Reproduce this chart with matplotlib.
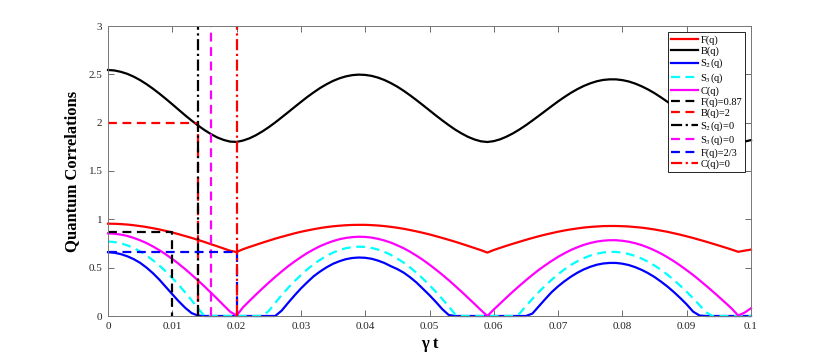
import numpy as np
import matplotlib
matplotlib.use("Agg")
import matplotlib.pyplot as plt

plt.rcParams["font.family"] = ["Liberation Serif", "DejaVu Serif"]
plt.rcParams["mathtext.fontset"] = "stix"

# time axis (gamma t), one reading every 0.001
t = np.round(np.arange(101) * 0.001, 3)

F_q = [0.955, 0.954, 0.951, 0.946, 0.939, 0.930, 0.920, 0.908, 0.895, 0.880, 0.864, 0.846, 0.827, 0.808,
       0.787, 0.766, 0.743, 0.721, 0.698, 0.675, 0.662,
       0.691, 0.714, 0.736, 0.758, 0.779, 0.800, 0.819, 0.837, 0.855, 0.871,
       0.885, 0.898, 0.910, 0.920, 0.928, 0.934, 0.939, 0.942, 0.943, 0.943,
       0.940, 0.936, 0.930, 0.922, 0.913, 0.902, 0.889, 0.875, 0.860, 0.844,
       0.826, 0.807, 0.788, 0.768, 0.747, 0.725, 0.703, 0.681, 0.656, 0.683,
       0.705, 0.727, 0.748, 0.768, 0.788, 0.807, 0.825, 0.842, 0.857, 0.872,
       0.885, 0.896, 0.906, 0.915, 0.921, 0.926, 0.930, 0.931, 0.931, 0.929,
       0.926, 0.920, 0.914, 0.905, 0.895, 0.883, 0.871, 0.856, 0.841, 0.824,
       0.807, 0.788, 0.769, 0.749, 0.729, 0.708, 0.687, 0.664, 0.676, 0.687]

B_q = [2.545, 2.540, 2.526, 2.505, 2.476, 2.440, 2.398, 2.351, 2.300, 2.246, 2.190,
       2.133, 2.076, 2.022, 1.971, 1.924, 1.882, 1.847, 1.821, 1.804, 1.801,
       1.815, 1.838, 1.870, 1.909, 1.953, 2.002, 2.054, 2.107, 2.161, 2.214,
       2.266, 2.314, 2.359, 2.398, 2.432, 2.459, 2.479, 2.492, 2.497, 2.494,
       2.484, 2.466, 2.441, 2.409, 2.372, 2.329, 2.282, 2.232, 2.180, 2.127,
       2.074, 2.023, 1.974, 1.928, 1.888, 1.853, 1.826, 1.807, 1.800, 1.809,
       1.828, 1.856, 1.890, 1.930, 1.974, 2.022, 2.071, 2.121, 2.171, 2.220,
       2.266, 2.309, 2.347, 2.380, 2.407, 2.428, 2.442, 2.448, 2.448, 2.440,
       2.426, 2.404, 2.376, 2.343, 2.305, 2.262, 2.216, 2.168, 2.119, 2.069,
       2.021, 1.975, 1.931, 1.892, 1.858, 1.831, 1.811, 1.801, 1.804, 1.820]

S2_q = ([0.660, 0.654, 0.640, 0.618, 0.588, 0.550, 0.500, 0.442, 0.375, 0.300, 0.225, 0.152, 0.085, 0.030, 0.004]
        + [0.0] * 12
        + [0.055, 0.135, 0.212, 0.285, 0.350, 0.412, 0.461, 0.504, 0.540, 0.567, 0.588, 0.600, 0.605, 0.602,
           0.592, 0.573, 0.548, 0.515]
        + [0.485, 0.448, 0.400, 0.345, 0.280, 0.215, 0.145, 0.070, 0.010]
        + [0.0] * 12
        + [0.025, 0.100, 0.175, 0.247, 0.307, 0.360, 0.407, 0.448, 0.482, 0.509, 0.530, 0.543, 0.549, 0.549,
           0.541, 0.527, 0.505, 0.477, 0.443, 0.403, 0.356, 0.305, 0.248, 0.186, 0.120, 0.045]
        + [0.005]
        + [0.0] * 8)

S3_q = ([0.770, 0.765, 0.752, 0.731, 0.703, 0.668, 0.625, 0.576, 0.521, 0.460, 0.393, 0.321, 0.244, 0.163, 0.079]
        + [0.0] * 10
        + [0.052, 0.135, 0.215, 0.290, 0.359, 0.424, 0.483, 0.536, 0.582, 0.622, 0.656, 0.682, 0.701, 0.713,
           0.717, 0.714]
        + [0.704, 0.687, 0.663, 0.632, 0.594, 0.551, 0.501, 0.445, 0.385, 0.319, 0.249, 0.175, 0.098, 0.017]
        + [0.0] * 9
        + [0.025, 0.103, 0.177, 0.248, 0.314, 0.375, 0.432, 0.483, 0.528, 0.566, 0.599, 0.625, 0.644, 0.657,
           0.663, 0.663, 0.655, 0.641, 0.621, 0.594, 0.561, 0.522, 0.478, 0.428, 0.373, 0.313, 0.250, 0.183,
           0.112, 0.039]
        + [0.0] * 7)

C_q = [0.855, 0.851, 0.842, 0.828, 0.808, 0.783, 0.754, 0.719, 0.680, 0.637, 0.590, 0.539, 0.485, 0.427,
       0.368, 0.306, 0.242, 0.177, 0.110, 0.044, 0.005,
       0.090, 0.156, 0.221, 0.284, 0.345, 0.404, 0.460, 0.514, 0.563, 0.609,
       0.652, 0.689, 0.723, 0.751, 0.775, 0.794, 0.808, 0.816, 0.820, 0.818,
       0.811, 0.798, 0.781, 0.759, 0.731, 0.700, 0.664, 0.623, 0.579, 0.531,
       0.480, 0.426, 0.370, 0.311, 0.250, 0.188, 0.125, 0.061, 0.000, 0.067,
       0.130, 0.193, 0.254, 0.313, 0.370, 0.425, 0.477, 0.525, 0.570, 0.612,
       0.649, 0.683, 0.711, 0.736, 0.755, 0.770, 0.779, 0.784, 0.784, 0.778,
       0.768, 0.753, 0.733, 0.708, 0.679, 0.646, 0.608, 0.567, 0.522, 0.474,
       0.424, 0.370, 0.314, 0.257, 0.198, 0.138, 0.077, 0.005, 0.035, 0.080]

for s in (F_q, B_q, S2_q, S3_q, C_q):
    assert len(s) == len(t)

# threshold markers: (t where reached, level)
t_F087, F_level = 0.010, 0.87
t_B2, B_level = 0.014, 2.0
t_S2zero = 0.014
t_S3zero = 0.016
t_F23, F23_level = 0.020, 2 / 3
t_Czero = 0.020

x_ticks = [0, 0.01, 0.02, 0.03, 0.04, 0.05, 0.06, 0.07, 0.08, 0.09, 0.1]
x_ticklabels = ["0", "0.01", "0.02", "0.03", "0.04", "0.05", "0.06", "0.07", "0.08", "0.09", "0.1"]
y_ticks = [0, 0.5, 1, 1.5, 2, 2.5, 3]
y_ticklabels = ["0", "0.5", "1", "1.5", "2", "2.5", "3"]

fig = plt.figure(figsize=(8.3, 3.54), dpi=100)
ax = fig.add_axes([108 / 830, 38 / 354, 643 / 830, 290 / 354])

lw = 1.6
dash = (4, 2.5)
dashdot = (5, 1.6, 1, 1.6)

ax.plot(t, F_q, color="#FF0000", lw=lw, label="F(q)", clip_on=False)
ax.plot(t, B_q, color="black", lw=lw, label="B(q)", clip_on=False)
ax.plot(t, S2_q, color="#0000FF", lw=lw, label="S$_2$(q)", clip_on=False)
ax.plot(t, S3_q, color="#00FFFF", lw=lw, dashes=dash, label="S$_3$(q)", clip_on=False)
ax.plot(t, C_q, color="#FF00FF", lw=lw, label="C(q)", clip_on=False)

ax.plot([0, t_F087, t_F087], [F_level, F_level, 0], color="black", lw=lw, dashes=dash,
        label="F(q)=0.87")
ax.plot([0, t_B2, t_B2], [B_level, B_level, 0], color="#FF0000", lw=lw, dashes=dash,
        label="B(q)=2")
ax.plot([t_S2zero, t_S2zero], [0, 3], color="black", lw=lw, dashes=dashdot, label="S$_2$(q)=0")
ax.plot([t_S3zero, t_S3zero], [0, 3], color="#FF00FF", lw=lw, dashes=dash, label="S$_3$(q)=0")
ax.plot([0, t_F23, t_F23], [F23_level, F23_level, 0], color="#0000FF", lw=lw, dashes=dash,
        label="F(q)=2/3")
ax.plot([t_Czero, t_Czero], [0, 3], color="#FF0000", lw=lw, dashes=dashdot, label="C(q)=0")

ax.set_xlim(0, 0.1)
ax.set_ylim(0, 3)
ax.set_xticks(x_ticks)
ax.set_xticklabels(x_ticklabels)
ax.set_yticks(y_ticks)
ax.set_yticklabels(y_ticklabels)
ax.tick_params(direction="in", length=4, width=0.6, top=True, right=True,
               labelsize=8, colors="#555555", labelcolor="#262626", pad=4)
for sp in ax.spines.values():
    sp.set_color("#777777")
    sp.set_linewidth(0.7)

ax.set_xlabel(r"$\gamma$ t", fontsize=12, fontweight="bold", labelpad=4)
ax.xaxis.label.set_text("\u03b3 t")
ax.set_ylabel("Quantum Correlations", fontsize=12, fontweight="bold", labelpad=6)

leg = ax.legend(loc="upper right", bbox_to_anchor=(0.991, 0.979), borderaxespad=0,
                fontsize=7.5, frameon=True, fancybox=False, edgecolor="black",
                framealpha=1, handlelength=2.6, handletextpad=0.2,
                labelspacing=0.12, borderpad=0.3)
leg.get_frame().set_linewidth(0.6)

fig.savefig("out.png", dpi=100)
